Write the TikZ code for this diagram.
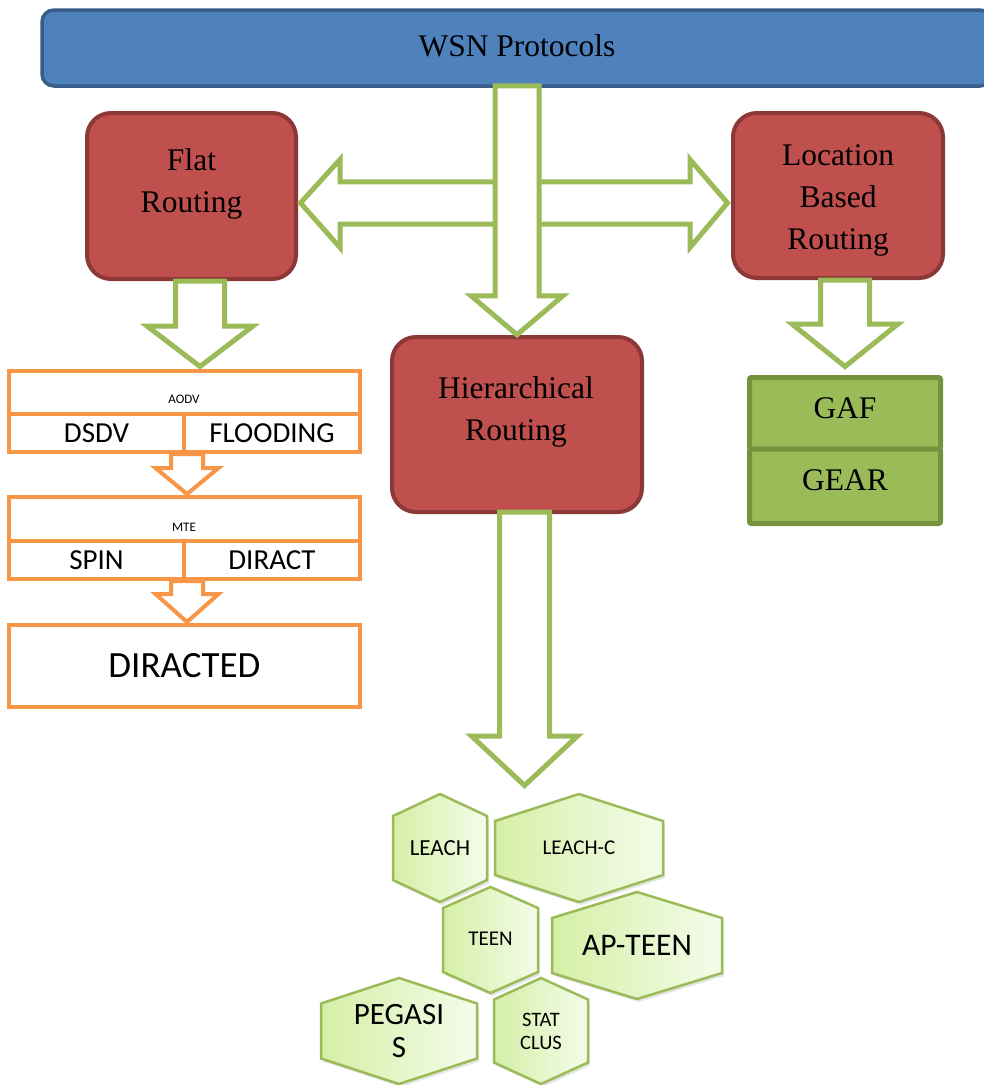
\documentclass[tikz,border=0pt]{standalone}
\usepackage{fontspec}
\setmainfont{Liberation Serif}
\newfontfamily\calfont{Carlito}
\usetikzlibrary{calc}

\definecolor{wsnfill}{HTML}{4F81BD}
\definecolor{wsnline}{HTML}{385D8A}
\definecolor{redfill}{HTML}{C0504D}
\definecolor{redline}{HTML}{8C3836}
\definecolor{arrowgreen}{HTML}{9BBB59}
\definecolor{orangeline}{HTML}{F79646}
\definecolor{gaffill}{HTML}{9BBB59}
\definecolor{gafline}{HTML}{76923C}
\definecolor{hexleft}{HTML}{D5EFA6}
\definecolor{hexright}{HTML}{F4FCEA}

% block arrow pointing down: [style]{top centre}{shaft half width}{shaft length}{head half width}{head length}
\newcommand\blockdown[6][]{%
  \draw[#1] ($#2+(-#3,0)$) -- ++(0,#4) -- ++(#3-#5,0) -- ++(#5,#6)
    -- ++(#5,-#6) -- ++(#3-#5,0) -- ++(0,-#4) -- cycle;}

% hexagon cell: {name}{cx}{cy}{half width}{half height}{shoulder}
\newcommand\hexcell[6]{%
  \fill[hexshadow] (#2+2,#3-#5+3) -- (#2+#4+2,#3-#6+3) -- (#2+#4+2,#3+#6+3)
    -- (#2+2,#3+#5+3) -- (#2-#4+2,#3+#6+3) -- (#2-#4+2,#3-#6+3) -- cycle;
  \path[hexbody] (#2,#3-#5) -- (#2+#4,#3-#6) -- (#2+#4,#3+#6)
    -- (#2,#3+#5) -- (#2-#4,#3+#6) -- (#2-#4,#3-#6) -- cycle;
  \coordinate (#1) at (#2,#3);}

\tikzset{
  wsnbar/.style={draw=wsnline, fill=wsnfill, line width=3.5pt, rounded corners=12pt, inner sep=0pt},
  redbox/.style={draw=redline, fill=redfill, line width=4pt, rounded corners=24pt, inner sep=0pt},
  serifbig/.style={font=\fontsize{31.5}{42}\selectfont, align=center, inner sep=0pt},
  garrow/.style={draw=arrowgreen, fill=white, line width=5pt},
  oarrow/.style={draw=orangeline, fill=white, line width=4pt},
  ocell/.style={draw=orangeline, fill=white, line width=4pt, inner sep=0pt,
    font=\calfont\fontsize{29}{34}\selectfont},
  osmall/.style={inner sep=0pt, font=\calfont\fontsize{13}{15}\selectfont},
  gafcell/.style={draw=gafline, fill=gaffill, line width=5pt, rounded corners=2pt, inner sep=0pt},
  hexshadow/.style={fill=black, opacity=0.10},
  hexbody/.style={draw=arrowgreen, line width=2.5pt, left color=hexleft, right color=hexright},
  hextext/.style={inner sep=0pt, align=center},
}

\begin{document}
\begin{tikzpicture}[x=1pt,y=-1pt]
\clip (0,0) rectangle (984,1085);
\fill[white] (0,0) rectangle (984,1085);

% top bar
\node[wsnbar, minimum width=950pt, minimum height=76pt] (wsn) at (517,48) {};
\node[serifbig] (wsntext) at (517,46) {WSN Protocols};

% routing classes
\node[redbox, minimum width=209pt, minimum height=166pt] (flat) at (191.5,196) {};
\node[serifbig] (flattext) at (191.5,184) {Flat\\Routing};
\node[redbox, minimum width=210pt, minimum height=165pt] (loc) at (838,195.5) {};
\node[serifbig] (loctext) at (838,200) {Location\\Based\\Routing};
\node[redbox, minimum width=250pt, minimum height=175pt] (hier) at (517,424.5) {};
\node[serifbig] (hiertext) at (516,411.5) {Hierarchical\\Routing};

% arrows out of the top bar
\coordinate (hl) at ($(flat.east)+(2.5,7)$);
\coordinate (hr) at ($(loc.west)+(-3.5,7.5)$);
\draw[garrow] (hl) -- ++(39.5,-43.5) -- ++(0,22.3) -- ($(hr)+(-37.5,-21.2)$)
  -- ++(0,-22.3) -- (hr) -- ++(-37.5,44.5) -- ++(0,-23.3)
  -- ($(hl)+(39.5,21.2)$) -- ++(0,23.3) -- cycle;
\blockdown[garrow]{($(wsn.south)+(0,-2)$)}{22}{210}{46}{39}

% flat routing protocols
\blockdown[garrow]{($(flat.south)+(8.5,0)$)}{24.5}{45}{53}{40.5}
\node[ocell, minimum width=351pt, minimum height=43pt] (aodv) at (184.5,392.5) {};
\node[osmall] (aodvtext) at (184,399) {AODV};
\node[ocell, minimum width=175pt, minimum height=38pt] (dsdv) at (96.5,433) {DSDV};
\node[ocell, minimum width=176pt, minimum height=38pt] (flooding) at (272,433) {FLOODING};
\blockdown[oarrow]{($(dsdv.south east)+(1,0)$)}{16}{14}{31.5}{26}
\node[ocell, minimum width=351pt, minimum height=44pt] (mte) at (184.5,519) {};
\node[osmall] (mtetext) at (184,527) {MTE};
\node[ocell, minimum width=175pt, minimum height=38pt] (spin) at (96.5,560) {SPIN};
\node[ocell, minimum width=176pt, minimum height=38pt] (diract) at (272,560) {DIRACT};
\blockdown[oarrow]{($(spin.south east)+(1,0)$)}{16}{13}{31.5}{28}
\node[ocell, minimum width=351pt, minimum height=82pt,
  font=\calfont\fontsize{37}{42}\selectfont] (diracted) at (184.5,666) {DIRACTED};

% location based protocols
\blockdown[garrow]{($(loc.south)+(7,0)$)}{24.5}{44}{53}{42.5}
\node[gafcell, minimum width=191pt, minimum height=71.5pt] (gaf) at (845,413.25) {};
\node[gafcell, minimum width=191pt, minimum height=74.5pt] (gear) at (845,486.25) {};
\node[serifbig] (gaftext) at (845,408.5) {GAF};
\node[serifbig] (geartext) at (845,480.5) {GEAR};

% hierarchical protocols
\blockdown[garrow]{($(hier.south)+(7.5,-2)$)}{25}{224}{53}{49.5}
\hexcell{leachhex}{440}{848}{47}{54}{32}
\hexcell{leachchex}{579}{848}{84}{54}{27}
\hexcell{teenhex}{490.5}{940}{47.5}{53}{32}
\hexcell{apteenhex}{637}{945.5}{85}{53.5}{27.5}
\hexcell{pegasishex}{399}{1031}{78}{53}{27.5}
\hexcell{statclushex}{541}{1031}{47}{53}{31.5}
\node[hextext, font=\calfont\fontsize{23}{27}\selectfont] (leach) at (leachhex) {LEACH};
\node[hextext, font=\calfont\fontsize{21}{25}\selectfont] (leachc) at (leachchex) {LEACH-C};
\node[hextext, font=\calfont\fontsize{21}{25}\selectfont] (teen) at ($(teenhex)+(0,-1)$) {TEEN};
\node[hextext, font=\calfont\fontsize{31.5}{35}\selectfont] (apteen) at (apteenhex) {AP-TEEN};
\node[hextext, font=\calfont\fontsize{31}{33}\selectfont] (pegasis) at ($(pegasishex)+(0,0.5)$) {PEGASI\\S};
\node[hextext, font=\calfont\fontsize{20.5}{22.5}\selectfont] (statclus) at ($(statclushex)+(0,0.5)$) {STAT\\CLUS};
\end{tikzpicture}
\end{document}
